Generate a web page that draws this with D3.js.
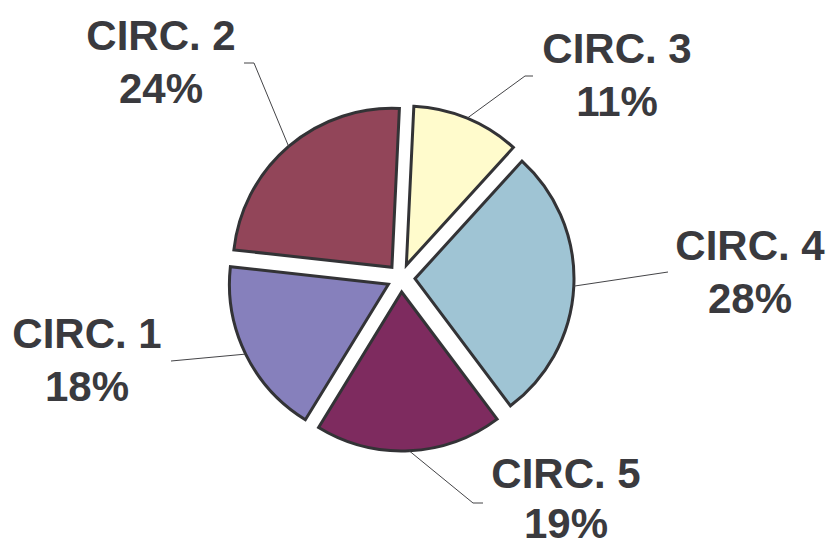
<!DOCTYPE html>
<html>
<head>
<meta charset="utf-8">
<script src="https://cdn.jsdelivr.net/npm/d3@7"></script>
<style>
  html, body { margin: 0; padding: 0; background: #fff; }
  svg { display: block; }
</style>
</head>
<body>
<svg id="chart" width="830" height="548"></svg>
<script>
// data
const categories = ["CIRC. 1", "CIRC. 2", "CIRC. 3", "CIRC. 4", "CIRC. 5"];
const shares = [18, 24, 11, 28, 19]; // percent
const sliceColors = ["#8680bc", "#924559", "#fffbcc", "#9fc4d4", "#7e2b5f"];

// label placement (text centre, first baseline, line gap, leader elbow, leader end)
const labelLayout = [
  { x: 87,  y: 348, gap: 53, ex: 171, ey: 361, hx: 171 },
  { x: 161, y: 50,  gap: 53, ex: 254, ey: 63,  hx: 244 },
  { x: 617, y: 63,  gap: 53, ex: 525, ey: 76,  hx: 533 },
  { x: 750, y: 260, gap: 53, ex: 668, ey: 272, hx: 668 },
  { x: 566, y: 488, gap: 50, ex: 473, ey: 503, hx: 483 },
];

const svg = d3.select("#chart");

const cx = 401, cy = 278; // pie centre
const radius = 159;
const explode = 14; // how far each slice is pulled out

const start = 211.5 * Math.PI / 180; // CIRC. 1 starts lower left, like the picture

const pie = d3.pie()
  .sort(null)
  .value(d => d)
  .startAngle(start)
  .endAngle(start + 2 * Math.PI);

const arc = d3.arc().innerRadius(0).outerRadius(radius);

const slices = pie(shares);

const g = svg.append("g").attr("transform", `translate(${cx},${cy})`);

// helper: offset of a slice along its bisector
function offset(d, dist) {
  const mid = (d.startAngle + d.endAngle) / 2;
  return [Math.sin(mid) * dist, -Math.cos(mid) * dist];
}

// leader lines first so slices sit on top of them
slices.forEach((d, i) => {
  const [ox, oy] = offset(d, explode);
  const [ax, ay] = offset(d, radius);
  const p0 = [cx + ox + ax, cy + oy + ay];
  const lay = labelLayout[i];
  const line = d3.line();
  svg.append("path")
    .attr("d", line([p0, [lay.ex, lay.ey], [lay.hx, lay.ey]]))
    .attr("fill", "none")
    .attr("stroke", "#444447")
    .attr("stroke-width", 1);
});

g.selectAll("path.slice")
  .data(slices)
  .join("path")
  .attr("class", "slice")
  .attr("transform", d => `translate(${offset(d, explode)})`)
  .attr("d", arc)
  .attr("fill", (d, i) => sliceColors[i])
  .attr("stroke", "#333336")
  .attr("stroke-width", 3)
  .attr("stroke-linejoin", "miter");

// labels: category on first line, percent on the second
const labels = svg.selectAll("text.label")
  .data(slices)
  .join("text")
  .attr("class", "label")
  .attr("text-anchor", "middle")
  .attr("font-family", "'Liberation Sans', Arial, Helvetica, sans-serif")
  .attr("font-weight", 700)
  .attr("font-size", 42)
  .attr("fill", "#3a3a3e");

labels.append("tspan")
  .attr("x", (d, i) => labelLayout[i].x)
  .attr("y", (d, i) => labelLayout[i].y)
  .text((d, i) => categories[i]);

labels.append("tspan")
  .attr("x", (d, i) => labelLayout[i].x)
  .attr("dy", (d, i) => labelLayout[i].gap)
  .text(d => d.data + "%");
</script>
</body>
</html>
